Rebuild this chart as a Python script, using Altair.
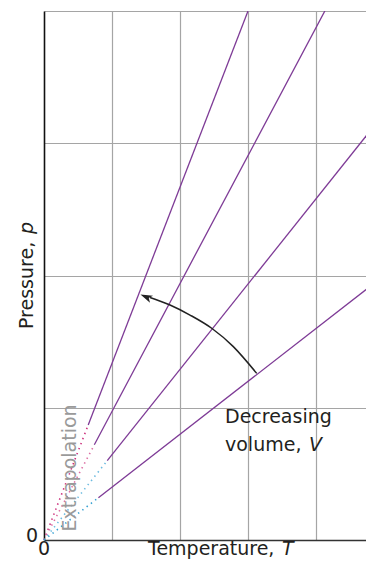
import altair as alt
import pandas as pd

# ---- data (T and p in grid units) ----
lines = ["V1", "V2", "V3", "V4"]                 # decreasing volume: V4 largest, V1 smallest
solid_start_T = [0.65, 0.74, 0.93, 0.80]
solid_start_p = [0.87, 0.72, 0.60, 0.32]
solid_end_T = [3.00, 4.13, 4.853, 4.853]
solid_end_p = [4.00, 4.00, 3.13, 1.94]
dot_colors = ["#cc2f7c", "#dc6ea3", "#6cbbe0", "#34a0d2"]

arrow_T = [3.128, 2.784, 2.466, 2.147, 1.853, 1.559]
arrow_p = [1.260, 1.462, 1.601, 1.701, 1.777, 1.834]
arrow_tip_T = [1.50]
arrow_tip_p = [1.838]

T_max = 4.735
p_max = 4.0
grid_vals = [1, 2, 3, 4]

FONT = "DejaVu Sans"
FS = 19
PURPLE = "#7e3b96"
TXT = "#231f20"

solid_rows, dot_rows = [], []
for i, name in enumerate(lines):
    solid_rows += [
        {"line": name, "T": solid_start_T[i], "p": solid_start_p[i]},
        {"line": name, "T": solid_end_T[i], "p": solid_end_p[i]},
    ]
    dot_rows += [
        {"line": name, "T": 0.0, "p": 0.0},
        {"line": name, "T": solid_start_T[i], "p": solid_start_p[i]},
    ]
solid_df = pd.DataFrame(solid_rows)
dot_df = pd.DataFrame(dot_rows)
arrow_df = pd.DataFrame({"T": arrow_T, "p": arrow_p, "o": list(range(len(arrow_T)))})
tip_df = pd.DataFrame({"T": arrow_tip_T, "p": arrow_tip_p})

xscale = alt.Scale(domain=[0, T_max], nice=False, zero=True)
yscale = alt.Scale(domain=[0, p_max], nice=False, zero=True)

xaxis = alt.Axis(values=grid_vals, grid=True, gridColor="#a5a5a5", gridWidth=1.2,
                 labels=False, ticks=False, domainColor="#333333", domainWidth=1.6, title=None)
yaxis = alt.Axis(values=grid_vals, grid=True, gridColor="#a5a5a5", gridWidth=1.2,
                 labels=False, ticks=False, domainColor="#111111", domainWidth=1.6, title=None)

solid = alt.Chart(solid_df).mark_line(color=PURPLE, strokeWidth=1.3, clip=True).encode(
    x=alt.X("T:Q", scale=xscale, axis=xaxis),
    y=alt.Y("p:Q", scale=yscale, axis=yaxis),
    detail="line:N",
)

dots = alt.Chart(dot_df).mark_line(strokeDash=[1.4, 4], strokeWidth=1.6).encode(
    x=alt.X("T:Q", scale=xscale),
    y=alt.Y("p:Q", scale=yscale),
    color=alt.Color("line:N", scale=alt.Scale(domain=lines, range=dot_colors), legend=None),
)

arrow = alt.Chart(arrow_df).mark_line(color="#222222", strokeWidth=1.5, interpolate="cardinal").encode(
    x=alt.X("T:Q", scale=xscale),
    y=alt.Y("p:Q", scale=yscale),
    order="o:Q",
)

head = alt.Chart(tip_df).mark_point(
    shape="M0,-1L0.65,1L0,0.5L-0.65,1Z", filled=True, size=144, angle=293,
    color="#222222", opacity=1, strokeWidth=0,
).encode(x=alt.X("T:Q", scale=xscale), y=alt.Y("p:Q", scale=yscale))


def txt(text, x, y, align="left", baseline="alphabetic", angle=0, italic=False, color=TXT, size=FS):
    kw = dict(text=text, align=align, baseline=baseline, font=FONT, fontSize=size, color=color)
    if angle:
        kw["angle"] = angle
    if italic:
        kw["fontStyle"] = "italic"
    return alt.Chart(alt.Data(values=[{}])).mark_text(**kw).encode(
        x=alt.value(x), y=alt.value(y))


texts = [
    txt("0", 0, 544, align="center"),
    txt("0", -6, 525, align="right", baseline="middle"),
    txt("Temperature,", 104, 544),
    txt("T", 238, 544, italic=True),
    txt("Pressure,", -11, 318, angle=270),
    txt("p", -11, 223, angle=270, italic=True),
    txt("Extrapolation", 26, 457, align="center", baseline="middle", angle=270, color="#9a9a9a"),
    txt("Decreasing", 181, 412),
    txt("volume,", 181, 440),
    txt("V", 265, 440, italic=True),
]

chart = alt.layer(solid, dots, arrow, head, *texts).properties(
    width=322, height=529,
    autosize=alt.AutoSizeParams(type="none"),
    padding={"left": 36, "top": 3, "right": 0, "bottom": 20},
).configure_view(stroke=None)

chart.save("out.html", embed_options={"renderer": "svg", "actions": False})
